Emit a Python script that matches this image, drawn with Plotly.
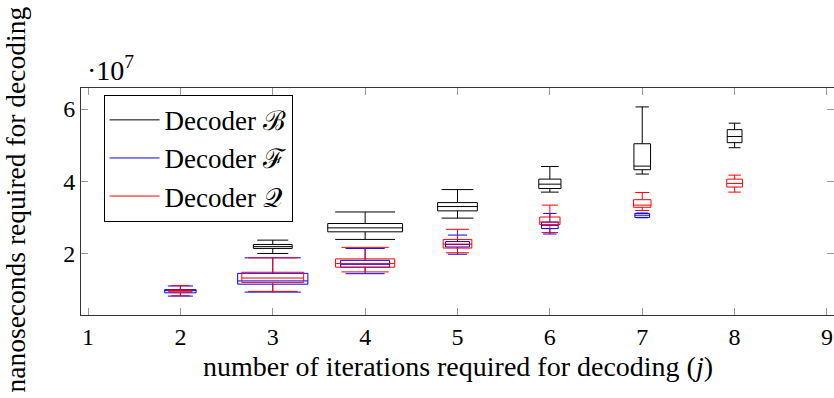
import plotly.graph_objects as go

# values in units of 1e7 nanoseconds
x_B = [3, 4, 5, 6, 7, 8]
B_low = [2.00, 2.39, 2.98, 3.70, 4.20, 4.93]
B_q1 = [2.14, 2.60, 3.18, 3.80, 4.32, 5.07]
B_med = [2.19, 2.71, 3.30, 3.92, 4.42, 5.24]
B_q3 = [2.25, 2.83, 3.41, 4.06, 5.04, 5.43]
B_high = [2.37, 3.15, 3.77, 4.41, 6.06, 5.61]
B_width = [0.42, 0.81, 0.43, 0.24, 0.18, 0.16]

x_F = [2, 3, 4, 5, 6, 7]
F_low = [0.82, 0.93, 1.44, 1.98, 2.54, 2.99]
F_q1 = [0.91, 1.15, 1.62, 2.18, 2.69, 3.00]
F_med = [0.97, 1.24, 1.70, 2.25, 2.78, 3.06]
F_q3 = [1.00, 1.45, 1.81, 2.33, 2.87, 3.11]
F_high = [1.10, 1.88, 2.14, 2.51, 3.11, 3.12]
F_width = [0.34, 0.76, 0.53, 0.26, 0.18, 0.16]

x_Q = [2, 3, 4, 5, 6, 7, 8]
Q_low = [0.83, 0.95, 1.49, 2.02, 2.58, 3.19, 3.70]
Q_q1 = [0.93, 1.20, 1.62, 2.15, 2.80, 3.28, 3.84]
Q_med = [0.96, 1.32, 1.72, 2.26, 2.87, 3.34, 3.94]
Q_q3 = [0.985, 1.48, 1.85, 2.39, 3.01, 3.49, 4.06]
Q_high = [1.11, 1.88, 2.17, 2.67, 3.34, 3.69, 4.17]
Q_width = [0.25, 0.67, 0.64, 0.31, 0.22, 0.19, 0.17]

x_ticks = [1, 2, 3, 4, 5, 6, 7, 8, 9]
y_ticks = [2, 4, 6]

x_title = "number of iterations required for decoding (<i>j</i>)"
y_title = "nanoseconds required for decoding"

series = [
    ("Decoder ℬ", "black", x_B, B_low, B_q1, B_med, B_q3, B_high, B_width),
    ("Decoder ℱ", "blue", x_F, F_low, F_q1, F_med, F_q3, F_high, F_width),
    ("Decoder 𝒬", "red", x_Q, Q_low, Q_q1, Q_med, Q_q3, Q_high, Q_width),
]

FONT = "Liberation Serif"
fig = go.Figure()

for name, color, xs, lo, q1, md, q3, hi, ws in series:
    for i in range(len(xs)):
        fig.add_trace(go.Box(
            x=[xs[i]], lowerfence=[lo[i]], q1=[q1[i]], median=[md[i]],
            q3=[q3[i]], upperfence=[hi[i]], width=ws[i], whiskerwidth=0.8,
            line=dict(color=color, width=1), fillcolor="rgba(0,0,0,0)",
            boxpoints=False, showlegend=False, hoverinfo="skip",
        ))

for name, color, *_ in series:
    fig.add_trace(go.Scatter(x=[None], y=[None], mode="lines", name=name,
                             line=dict(color=color, width=1)))

fig.update_layout(
    width=834, height=398,
    margin=dict(l=81, r=0, t=88, b=83),
    paper_bgcolor="white", plot_bgcolor="white",
    boxmode="overlay",
    font=dict(family=FONT, size=24, color="black"),
    legend=dict(x=0.03, y=0.97, xanchor="left", yanchor="top",
                bordercolor="black", borderwidth=1, bgcolor="white",
                font=dict(family=FONT, size=27), tracegroupgap=0,
                itemwidth=50),
    xaxis=dict(range=[0.924, 9.076], tickvals=x_ticks, ticks="inside", ticklen=7,
               tickcolor="#999", showline=True, linecolor="#333", linewidth=1,
               mirror="ticks", showgrid=False, zeroline=False,
               tickfont=dict(size=24)),
    yaxis=dict(range=[0.296, 6.584], tickvals=y_ticks, ticks="inside", ticklen=7,
               tickcolor="#999", showline=True, linecolor="#333", linewidth=1,
               mirror="ticks", showgrid=False, zeroline=False,
               tickfont=dict(size=24)),
    annotations=[
        dict(text="·10<sup>7</sup>", xref="paper", yref="paper",
             x=0.0, y=1.0, xanchor="left", yanchor="bottom", xshift=4,
             showarrow=False, font=dict(family=FONT, size=28)),
        dict(text=x_title, xref="paper", yref="paper", x=0.5, y=0,
             xanchor="center", yanchor="middle", yshift=-51,
             showarrow=False, font=dict(family=FONT, size=28)),
        dict(text=y_title, xref="paper", yref="paper", x=0, y=0.5,
             xanchor="center", yanchor="middle", xshift=-66, yshift=2,
             textangle=-90, showarrow=False, font=dict(family=FONT, size=27.5)),
    ],
)

fig.write_html("out.html")
